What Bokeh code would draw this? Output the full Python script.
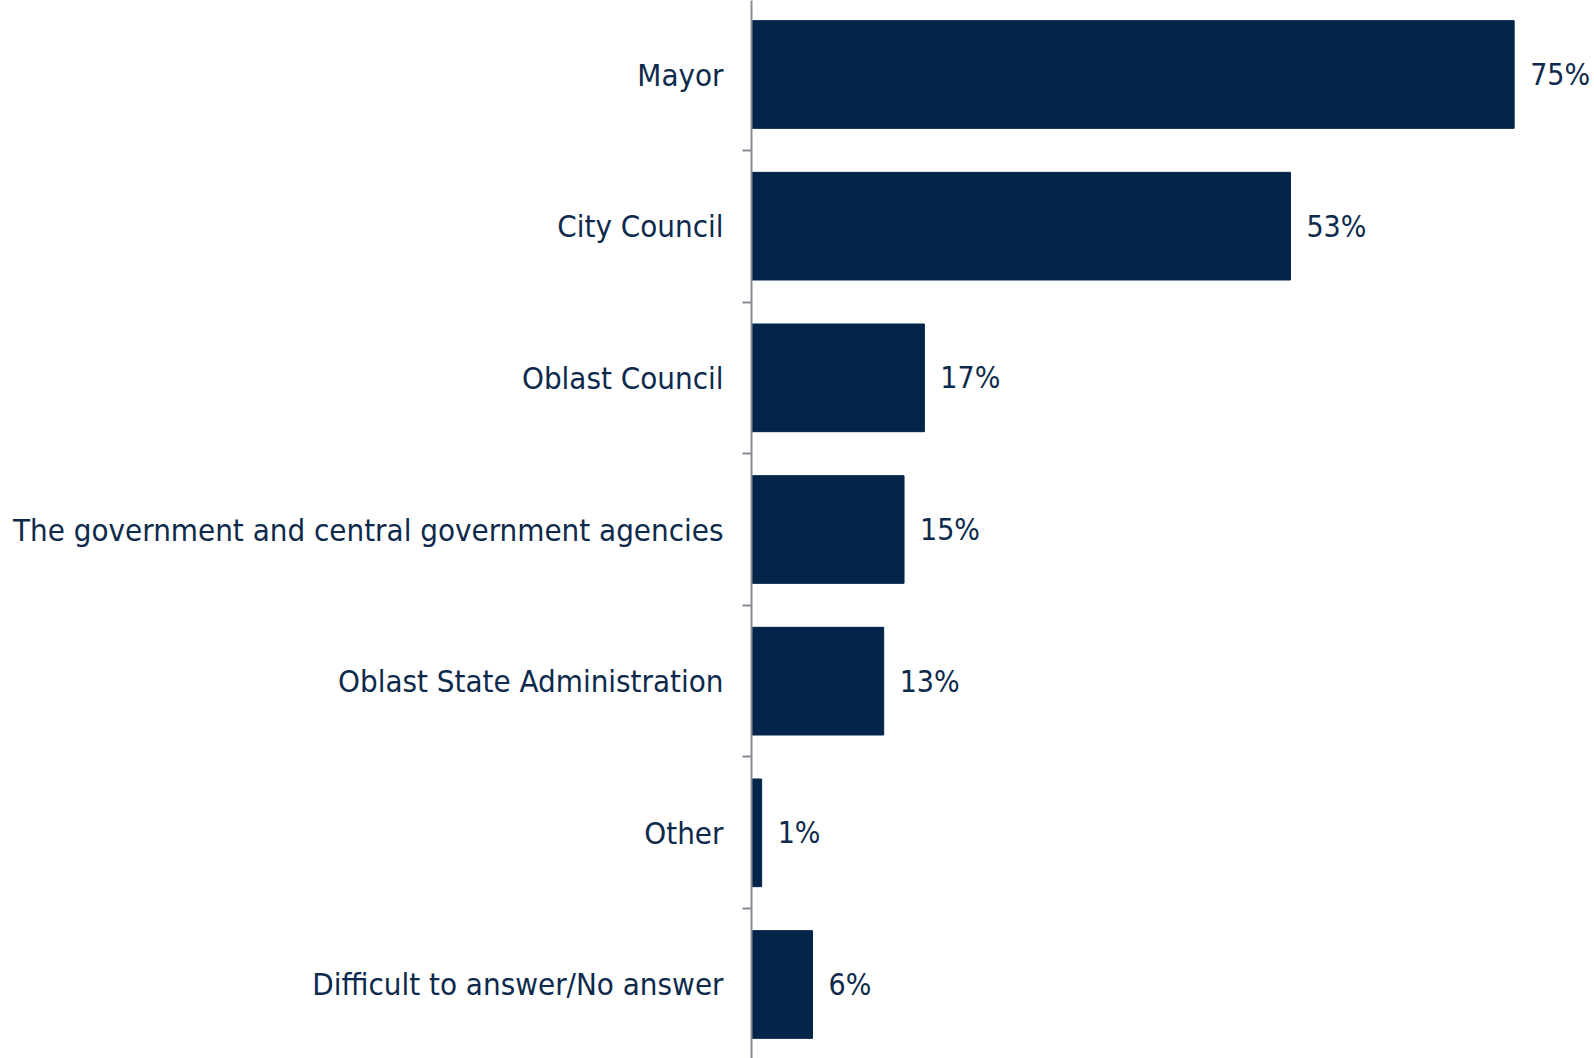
from bokeh.plotting import figure
from bokeh.models import Range1d, FixedTicker, ColumnDataSource
from bokeh.core.properties import value
from bokeh.embed import file_html
from bokeh.resources import INLINE

categories = [
    "Mayor",
    "City Council",
    "Oblast Council",
    "The government and central government agencies",
    "Oblast State Administration",
    "Other",
    "Difficult to answer/No answer",
]
values = [75, 53, 17, 15, 13, 1, 6]
value_labels = [f"{v}%" for v in values]

FONT = "DejaVu Sans Condensed"
BAR = "#03254a"
TXT = "#0d2a4c"
AXIS = "#8a8c95"

pos = list(range(len(categories)))
src = ColumnDataSource(dict(y=pos, v=values, lab=value_labels))

p = figure(width=1594, height=1058, output_backend="svg", toolbar_location=None,
           x_range=Range1d(0, 82.9), y_range=Range1d(6.488, -0.488),
           x_axis_location=None,
           min_border_left=751, min_border_right=0, min_border_top=0, min_border_bottom=0)
p.hbar(y="y", right="v", left=0, height=0.71, source=src, color=BAR)
p.text(x="v", y="y", text="lab", source=src, x_offset=16, text_baseline="middle",
       text_align="left", text_font=value(FONT), text_font_size="30px", text_color=TXT)

p.grid.visible = False
p.outline_line_color = None

yax = p.yaxis[0]
yax.ticker = FixedTicker(ticks=[float(i) for i in pos], minor_ticks=[i + 0.5 for i in range(len(pos) - 1)])
yax.major_label_overrides = {float(i): c for i, c in enumerate(categories)}
yax.major_label_text_font = FONT
yax.major_label_text_font_size = "31px"
yax.major_label_text_color = TXT
yax.major_label_standoff = 19
yax.major_tick_line_color = None
yax.major_tick_in = 0
yax.major_tick_out = 0
yax.minor_tick_in = 0
yax.minor_tick_out = 9
yax.minor_tick_line_color = AXIS
yax.minor_tick_line_width = 2
yax.axis_line_color = AXIS
yax.axis_line_width = 2

open("out.html", "w").write(file_html(p, INLINE))
